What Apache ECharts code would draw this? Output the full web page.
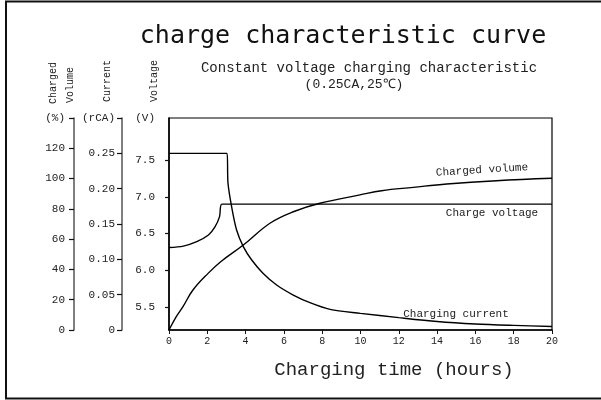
<!DOCTYPE html>
<html>
<head>
<meta charset="utf-8">
<style>
  html, body { margin: 0; padding: 0; background: #fff; }
  #chart { width: 601px; height: 400px; }
</style>
<script src="https://cdn.jsdelivr.net/npm/echarts@6/dist/echarts.min.js"></script>
</head>
<body>
<div id="chart"></div>
<script>
// values: [hours, value]
const chargeVoltage = [
  [0, 6.31], [0.75, 6.33], [1.45, 6.39], [2.06, 6.48], [2.4, 6.59],
  [2.64, 6.73], [2.76, 6.9], [20, 6.9]
];
const chargingCurrent = [
  [0, 0.25], [3.03, 0.25], [3.08, 0.208], [3.27, 0.1745], [3.53, 0.1415],
  [3.88, 0.118], [4.32, 0.099], [4.92, 0.08], [5.62, 0.0637], [6.49, 0.0495],
  [7.36, 0.0387], [8.41, 0.0292], [10, 0.0236], [12, 0.0175], [14, 0.012],
  [16, 0.0085], [18, 0.0065], [20, 0.005]
];
const chargedVolume = [
  [0, 0], [0.38, 8.8], [0.73, 15.4], [1.25, 26.4], [2.04, 37.4],
  [2.7, 45.1], [3.88, 56.1], [5.27, 70.5], [6.49, 78.1], [7.88, 83.7],
  [9.97, 89.2], [11.1, 92], [12.76, 94.2], [14.5, 96.4], [17.1, 98.6],
  [20, 100.2]
];

const voltTicks = [5.5, 6.0, 6.5, 7.0, 7.5];
const voltMin = 5.19;
const voltMax = 8.07;

const serifMono = "'Liberation Mono', monospace";
const ink = "#222";

const chart = echarts.init(document.getElementById("chart"));

function sideAxis(offset, min, max, interval, top, fmt, margin, lineColor) {
  return {
    type: "value",
    position: "left",
    offset: offset,
    min: min,
    max: max,
    interval: interval,
    axisLine: { show: true, lineStyle: { color: lineColor, width: 1.5 } },
    axisTick: { show: true, length: 5, lineStyle: { color: "#111", width: 1.2 } },
    axisLabel: {
      margin: margin,
      fontFamily: serifMono,
      fontSize: 11,
      color: ink,
      formatter: v => (v === max ? top : fmt(v))
    },
    splitLine: { show: false }
  };
}

chart.setOption({
  animation: false,
  backgroundColor: "#fff",
  grid: {
    left: 169, top: 118, width: 383, height: 212,
    show: true, borderColor: "#000", borderWidth: 1.2,
    outerBoundsMode: "none"
  },
  xAxis: {
    type: "value",
    min: 0, max: 20, interval: 2,
    axisLine: { lineStyle: { color: "#000", width: 1.5 } },
    axisTick: { length: 4, lineStyle: { color: "#111" } },
    axisLabel: { margin: 6, fontFamily: serifMono, fontSize: 10, color: ink },
    splitLine: { show: false }
  },
  yAxis: [
    {
      type: "value",
      position: "left",
      min: voltMin,
      max: voltMax,
      axisLine: { show: true, lineStyle: { color: "#000", width: 1.5 } },
      axisTick: { show: true, length: 4, customValues: voltTicks, lineStyle: { color: "#111", width: 1.2 } },
      axisLabel: {
        customValues: voltTicks.concat([voltMax]),
        margin: 14,
        fontFamily: serifMono,
        fontSize: 11,
        color: ink,
        formatter: v => (v === voltMax ? "(V)" : v.toFixed(1))
      },
      splitLine: { show: false }
    },
    sideAxis(47, 0, 0.3, 0.05, "(rCA)", v => (v === 0 ? "0" : v.toFixed(2)), 7, "#555"),
    sideAxis(95, 0, 140, 20, "(%)", v => String(v), 9, "#555")
  ],
  series: [
    {
      name: "Charge voltage", type: "line", yAxisIndex: 0,
      data: chargeVoltage, showSymbol: false, smooth: 0.3,
      lineStyle: { color: "#000", width: 1.4 }
    },
    {
      name: "Charging current", type: "line", yAxisIndex: 1,
      data: chargingCurrent, showSymbol: false, smooth: 0.3,
      lineStyle: { color: "#000", width: 1.4 }
    },
    {
      name: "Charged volume", type: "line", yAxisIndex: 2,
      data: chargedVolume, showSymbol: false, smooth: 0.4,
      lineStyle: { color: "#000", width: 1.4 }
    }
  ],
  graphic: [
    {
      type: "rect", silent: true,
      shape: { x: 6, y: 1.5, width: 640, height: 397 },
      style: { fill: "none", stroke: "#111", lineWidth: 2 }
    },
    {
      type: "text", x: 343, y: 36,
      style: {
        text: "charge characteristic curve", fill: "#111",
        font: "25px 'DejaVu Sans Mono', monospace",
        align: "center", verticalAlign: "middle"
      }
    },
    {
      type: "text", x: 369, y: 68,
      style: {
        text: "Constant voltage charging characteristic", fill: ink,
        font: "14px " + serifMono, align: "center", verticalAlign: "middle"
      }
    },
    {
      type: "text", x: 354, y: 85,
      style: {
        text: "(0.25CA,25℃)", fill: ink,
        font: "13px " + serifMono, align: "center", verticalAlign: "middle"
      }
    },
    {
      type: "text", x: 394, y: 370,
      style: {
        text: "Charging time (hours)", fill: ink,
        font: "19px " + serifMono, align: "center", verticalAlign: "middle"
      }
    },
    {
      type: "text", x: 53.5, y: 83, rotation: Math.PI / 2,
      style: { text: "Charged", fill: ink, font: "10px " + serifMono, align: "center", verticalAlign: "middle" }
    },
    {
      type: "text", x: 70.5, y: 85, rotation: Math.PI / 2,
      style: { text: "Volume", fill: ink, font: "10px " + serifMono, align: "center", verticalAlign: "middle" }
    },
    {
      type: "text", x: 107.5, y: 81, rotation: Math.PI / 2,
      style: { text: "Current", fill: ink, font: "10px " + serifMono, align: "center", verticalAlign: "middle" }
    },
    {
      type: "text", x: 154, y: 81, rotation: Math.PI / 2,
      style: { text: "Voltage", fill: ink, font: "10px " + serifMono, align: "center", verticalAlign: "middle" }
    },
    {
      type: "text", x: 482, y: 170, rotation: 0.06,
      style: { text: "Charged volume", fill: ink, font: "11px " + serifMono, align: "center", verticalAlign: "middle" }
    },
    {
      type: "text", x: 492, y: 213,
      style: { text: "Charge voltage", fill: ink, font: "11px " + serifMono, align: "center", verticalAlign: "middle" }
    },
    {
      type: "text", x: 456, y: 314,
      style: { text: "Charging current", fill: ink, font: "11px " + serifMono, align: "center", verticalAlign: "middle" }
    }
  ]
});
</script>
</body>
</html>
